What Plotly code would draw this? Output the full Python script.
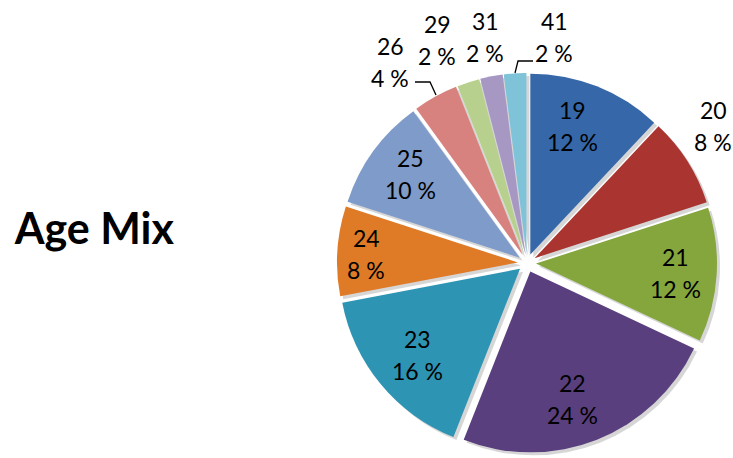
import plotly.graph_objects as go

# Age distribution (share of people, %)
ages = ["19", "20", "21", "22", "23", "24", "25", "26", "29", "31", "41"]
shares = [12, 8, 12, 24, 16, 8, 10, 4, 2, 2, 2]
colors = ["#3567a9", "#aa3430", "#84a63d", "#5a3f7e", "#2e94b3", "#df7a26",
          "#7e9bc9", "#d8827f", "#b8d08e", "#a697c3", "#7fc3d9"]

# Label block centres in pixels (x, y from top), one per age
label_px = [(572, 126), (713, 126), (675, 273), (572, 399), (417, 355),
            (366, 254), (410, 174), (390, 62), (437, 40), (485, 37), (554, 37)]

W, H = 733, 458
cx, cy, R = 527, 263, 190  # pie centre and outer extent (px)
FONT = "Lato"


def px_domain(dx=0, dy=0):
    return dict(x=[(cx + dx - R) / W, (cx + dx + R) / W],
                y=[(H - cy - dy - R) / H, (H - cy - dy + R) / H])


def pie(dx, dy, fill, hover):
    return go.Pie(
        labels=ages, values=shares, sort=False,
        direction="clockwise", rotation=0, pull=0.05,
        marker=dict(colors=fill, line=dict(width=0)),
        textinfo="none", hoverinfo="label+percent" if hover else "skip",
        domain=px_domain(dx, dy),
    )


fig = go.Figure()
# soft drop shadow under the slices
fig.add_trace(pie(3, 3, ["rgba(0,0,0,0.16)"] * len(ages), False))
fig.add_trace(pie(0, 0, colors, True))

# slice labels: age on the first line, share on the second
for age, share, (x, y) in zip(ages, shares, label_px):
    for txt, yy in ((age, y - 16), (f"{share} %", y + 16)):
        fig.add_annotation(
            x=x / W, y=1 - yy / H, xref="paper", yref="paper",
            text=txt, showarrow=False, xanchor="center", yanchor="middle",
            font=dict(family=FONT, size=23, color="#000000"),
        )

# leader lines for the small slices at the top
leaders = [[(415, 82), (430, 82), (436, 95)],
           [(533, 61), (518, 61), (515, 73)]]
for pts in leaders:
    path = "M " + " L ".join(f"{x / W:.5f},{1 - y / H:.5f}" for x, y in pts)
    fig.add_shape(type="path", path=path, xref="paper", yref="paper",
                  line=dict(color="#000000", width=1.3))

fig.update_layout(
    width=W, height=H,
    margin=dict(l=0, r=0, t=0, b=0),
    paper_bgcolor="white",
    plot_bgcolor="white",
    showlegend=False,
    title=dict(text="<b>Age Mix</b>", x=0.02, xanchor="left",
               y=0.5, yanchor="middle",
               font=dict(family=FONT, size=43, color="#000000")),
)

fig.write_html("out.html")
